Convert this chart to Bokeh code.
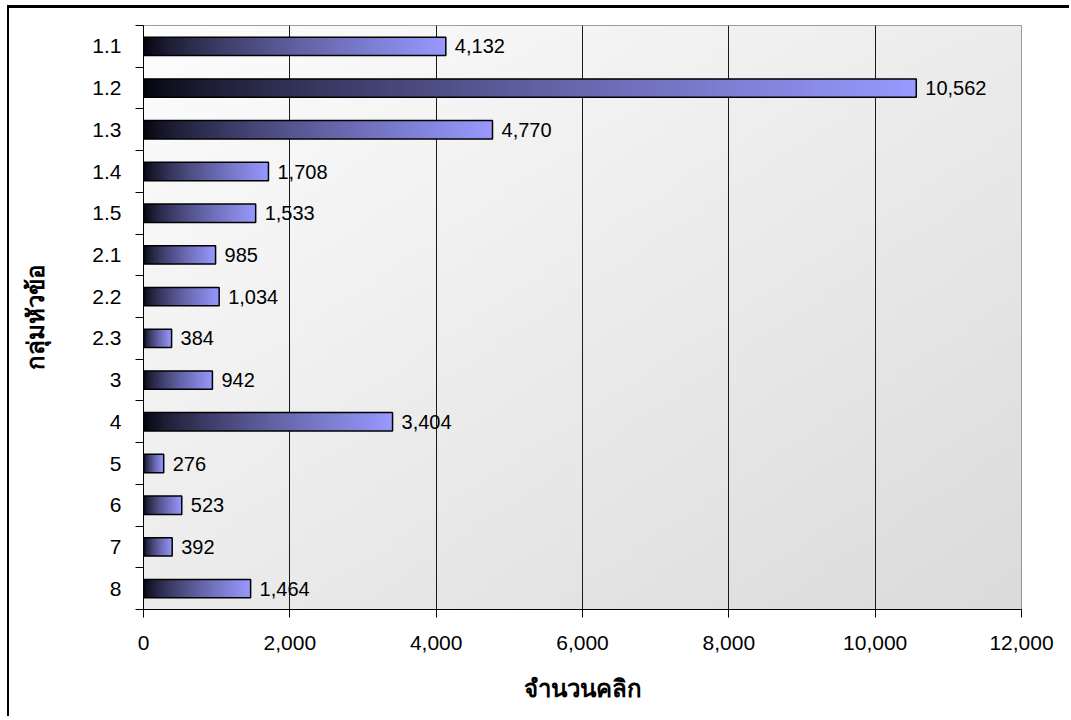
import numpy as np
from bokeh.plotting import figure
from bokeh.models import FixedTicker, NumeralTickFormatter, ColumnDataSource, Range1d
from bokeh.embed import file_html
from bokeh.resources import INLINE
from bokeh.core.properties import value

# ---- data ----
categories = ["1.1", "1.2", "1.3", "1.4", "1.5", "2.1", "2.2", "2.3", "3", "4", "5", "6", "7", "8"]
clicks = [4132, 10562, 4770, 1708, 1533, 985, 1034, 384, 942, 3404, 276, 523, 392, 1464]
x_ticks = [0, 2000, 4000, 6000, 8000, 10000, 12000]
grid_ticks = [2000, 4000, 6000, 8000, 10000]
x_title = "จำนวนคลิก"
y_title = "กลุ่มหัวข้อ"

n = len(categories)
ypos = [n - i - 0.5 for i in range(n)]
bar_h = 0.44
FONT = "Liberation Sans"

p = figure(width=1062, height=711, output_backend="svg", toolbar_location=None,
           x_range=Range1d(0, 12000), y_range=Range1d(0, n),
           min_border_left=134, min_border_right=50, min_border_top=17, min_border_bottom=110)
p.styles = {"margin-left": "7px", "margin-top": "5px",
            "border-left": "2px solid black", "border-top": "3px solid black"}
p.background_fill_color = "white"
p.border_fill_color = "white"
p.outline_line_color = "#808080"
p.outline_line_width = 1

# background diagonal gradient
ny, nx = 60, 120
u = np.linspace(0, 1, nx)[None, :]
v = 1 - np.linspace(0, 1, ny)[:, None]
g = 253 - 17 * u - 17 * v
bg = np.zeros((ny, nx, 4), dtype=np.uint8)
bg[..., 0] = g
bg[..., 1] = g
bg[..., 2] = g
bg[..., 3] = 255
bg32 = bg.view(np.uint32).reshape(ny, nx)
bgr = p.image_rgba(image=[bg32], x=0, y=0, dw=12000, dh=n)
bgr.level = "image"

# grid
p.ygrid.visible = False
p.xgrid.ticker = FixedTicker(ticks=grid_ticks)
p.xgrid.grid_line_color = "#1a1a1a"
p.xgrid.grid_line_width = 1

# bar gradient
gw = 256
t = np.linspace(0, 1, gw) ** 0.7
bi = np.zeros((1, gw, 4), dtype=np.uint8)
bi[..., 0] = 3 + t * (153 - 3)
bi[..., 1] = 3 + t * (153 - 3)
bi[..., 2] = 10 + t * (255 - 10)
bi[..., 3] = 255
bi32 = bi.view(np.uint32).reshape(1, gw)

src = ColumnDataSource(dict(
    img=[bi32] * n,
    y=ypos,
    ybot=[y - bar_h / 2 for y in ypos],
    v=clicks,
    lab=[f"{c:,}" for c in clicks],
))
p.image_rgba(image="img", x=0, y="ybot", dw="v", dh=bar_h, source=src)
p.hbar(y="y", left=0, right="v", height=bar_h, fill_color=None,
       line_color="black", line_width=1.5, source=src)
p.text(x="v", y="y", text="lab", x_offset=9, text_baseline="middle", text_align="left",
       text_font=value(FONT), text_font_size="20px", text_color="black", source=src)

# x axis
xa = p.xaxis[0]
xa.ticker = FixedTicker(ticks=x_ticks)
xa.formatter = NumeralTickFormatter(format="0,0")
xa.major_tick_out = 8
xa.major_tick_in = 0
xa.minor_tick_line_color = None
xa.axis_line_color = "black"
xa.major_tick_line_color = "black"
xa.major_label_text_font = FONT
xa.major_label_text_font_size = "21px"
xa.major_label_text_color = "black"
xa.major_label_standoff = 18
xa.axis_label = x_title
xa.axis_label_text_font = FONT
xa.axis_label_text_font_style = "bold"
xa.axis_label_text_font_size = "24px"
xa.axis_label_standoff = 22
xa.axis_label_text_color = "black"

# y axis
ya = p.yaxis[0]
ya.ticker = FixedTicker(ticks=ypos, minor_ticks=list(range(n + 1)))
ya.major_label_overrides = {float(y): c for y, c in zip(ypos, categories)}
ya.major_tick_line_color = None
ya.major_tick_out = 7
ya.major_tick_in = 0
ya.minor_tick_out = 8
ya.minor_tick_in = 0
ya.minor_tick_line_color = "black"
ya.axis_line_color = "black"
ya.major_label_text_font = FONT
ya.major_label_text_font_size = "21px"
ya.major_label_text_color = "black"
ya.major_label_standoff = 14
ya.axis_label = y_title
ya.axis_label_text_font = FONT
ya.axis_label_text_font_style = "bold"
ya.axis_label_text_font_size = "24px"
ya.axis_label_standoff = 40
ya.axis_label_text_color = "black"

open("out.html", "w").write(file_html(p, INLINE))
